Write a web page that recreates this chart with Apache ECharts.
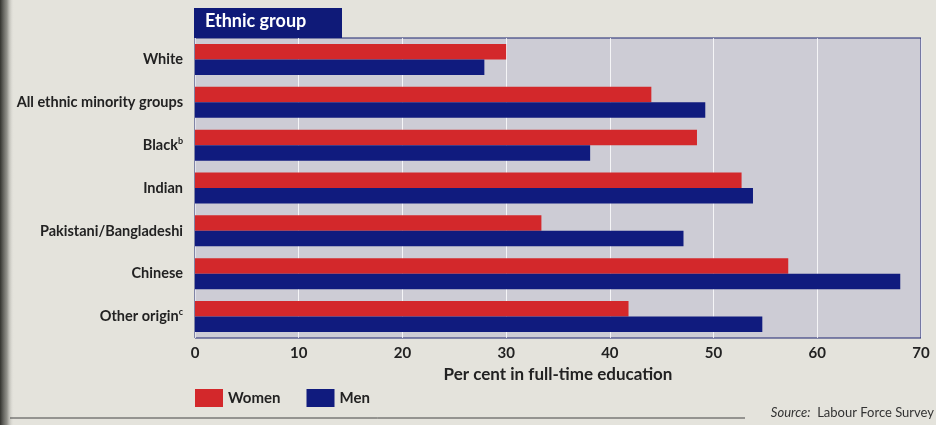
<!DOCTYPE html>
<html>
<head>
<meta charset="utf-8">
<script src="https://cdn.jsdelivr.net/npm/echarts@6/dist/echarts.min.js"></script>
<style>
html,body{margin:0;padding:0;background:#e4e3dc;}
#c{width:936px;height:425px;}
</style>
</head>
<body>
<div id="c"></div>
<script>
const categories = ['White', 'All ethnic minority groups', 'Black', 'Indian', 'Pakistani/Bangladeshi', 'Chinese', 'Other origin'];
const footnotes = ['', '', 'b', '', '', '', 'c'];
const women = [30.0, 44.0, 48.4, 52.7, 33.4, 57.2, 41.8];
const men = [27.9, 49.2, 38.1, 53.8, 47.1, 68.0, 54.7];
const xTicks = {min: 0, max: 70, interval: 10};

const FONT = 'Lato';
const chart = echarts.init(document.getElementById('c'), null, {renderer: 'canvas'});
chart.setOption({
  backgroundColor: '#e4e3dc',
  animation: false,
  textStyle: {fontFamily: FONT},
  grid: {left: 195, right: 15, top: 38, bottom: 87, show: true, backgroundColor: '#cdccd5', borderColor: '#1c2470', borderWidth: 1},
  legend: {
    left: 190, top: 384, itemWidth: 28, itemHeight: 18, itemGap: 26, icon: 'rect',
    textStyle: {fontFamily: FONT, fontWeight: 'bold', fontSize: 15, color: '#222'},
    data: ['Women', 'Men']
  },
  xAxis: {
    type: 'value', min: xTicks.min, max: xTicks.max, interval: xTicks.interval,
    axisLine: {show: false}, axisTick: {show: false},
    splitLine: {lineStyle: {color: 'rgba(255,255,255,0.8)', width: 1}},
    axisLabel: {fontFamily: FONT, fontWeight: 'bold', fontSize: 15, color: '#222', margin: 8},
    name: 'Per cent in full-time education', nameLocation: 'middle', nameGap: 26,
    nameTextStyle: {fontFamily: FONT, fontWeight: 'bold', fontSize: 17, color: '#222'}
  },
  yAxis: {
    type: 'category', data: categories, inverse: true,
    axisLine: {show: false}, axisTick: {show: false}, splitLine: {show: false},
    axisLabel: {
      margin: 12,
      formatter: function (v) {
        const f = footnotes[categories.indexOf(v)];
        return f ? '{m|' + v + '}{s|' + f + '}' : '{m|' + v + '}';
      },
      rich: {
        m: {fontFamily: FONT, fontWeight: 'bold', fontSize: 14.5, color: '#222', lineHeight: 18},
        s: {fontFamily: FONT, fontWeight: 'bold', fontSize: 9, color: '#222', verticalAlign: 'top', lineHeight: 10}
      }
    }
  },
  series: [
    {name: 'Women', type: 'bar', data: women, barWidth: 15.5, barGap: '0%',
     itemStyle: {color: '#d3282b'}},
    {name: 'Men', type: 'bar', data: men, barWidth: 15.5, barGap: '0%',
     itemStyle: {color: '#101b7e'}}
  ],
  graphic: [
    {type: 'rect', left: 0, top: 0, shape: {width: 14, height: 425},
     style: {fill: new echarts.graphic.LinearGradient(0, 0, 1, 0, [{offset: 0, color: 'rgba(40,40,36,0.95)'}, {offset: 0.5, color: 'rgba(90,90,84,0.6)'}, {offset: 1, color: 'rgba(228,227,220,0)'}])}},
    {type: 'rect', left: 194, top: 8, shape: {width: 148, height: 30}, style: {fill: '#0f1a78'}},
    {type: 'text', left: 205, top: 12, style: {text: 'Ethnic group', fill: '#fff', font: 'bold 18px ' + FONT}},
    {type: 'line', shape: {x1: 10, y1: 418, x2: 745, y2: 418}, style: {stroke: '#444', lineWidth: 1}},
    {type: 'text', right: 2, top: 406, style: {
      text: '{i|Source:}  {n|Labour Force Survey}',
      rich: {i: {font: 'italic 13px ' + FONT, fill: '#333'}, n: {font: '13px ' + FONT, fill: '#333'}}
    }}
  ]
});
</script>
</body>
</html>
